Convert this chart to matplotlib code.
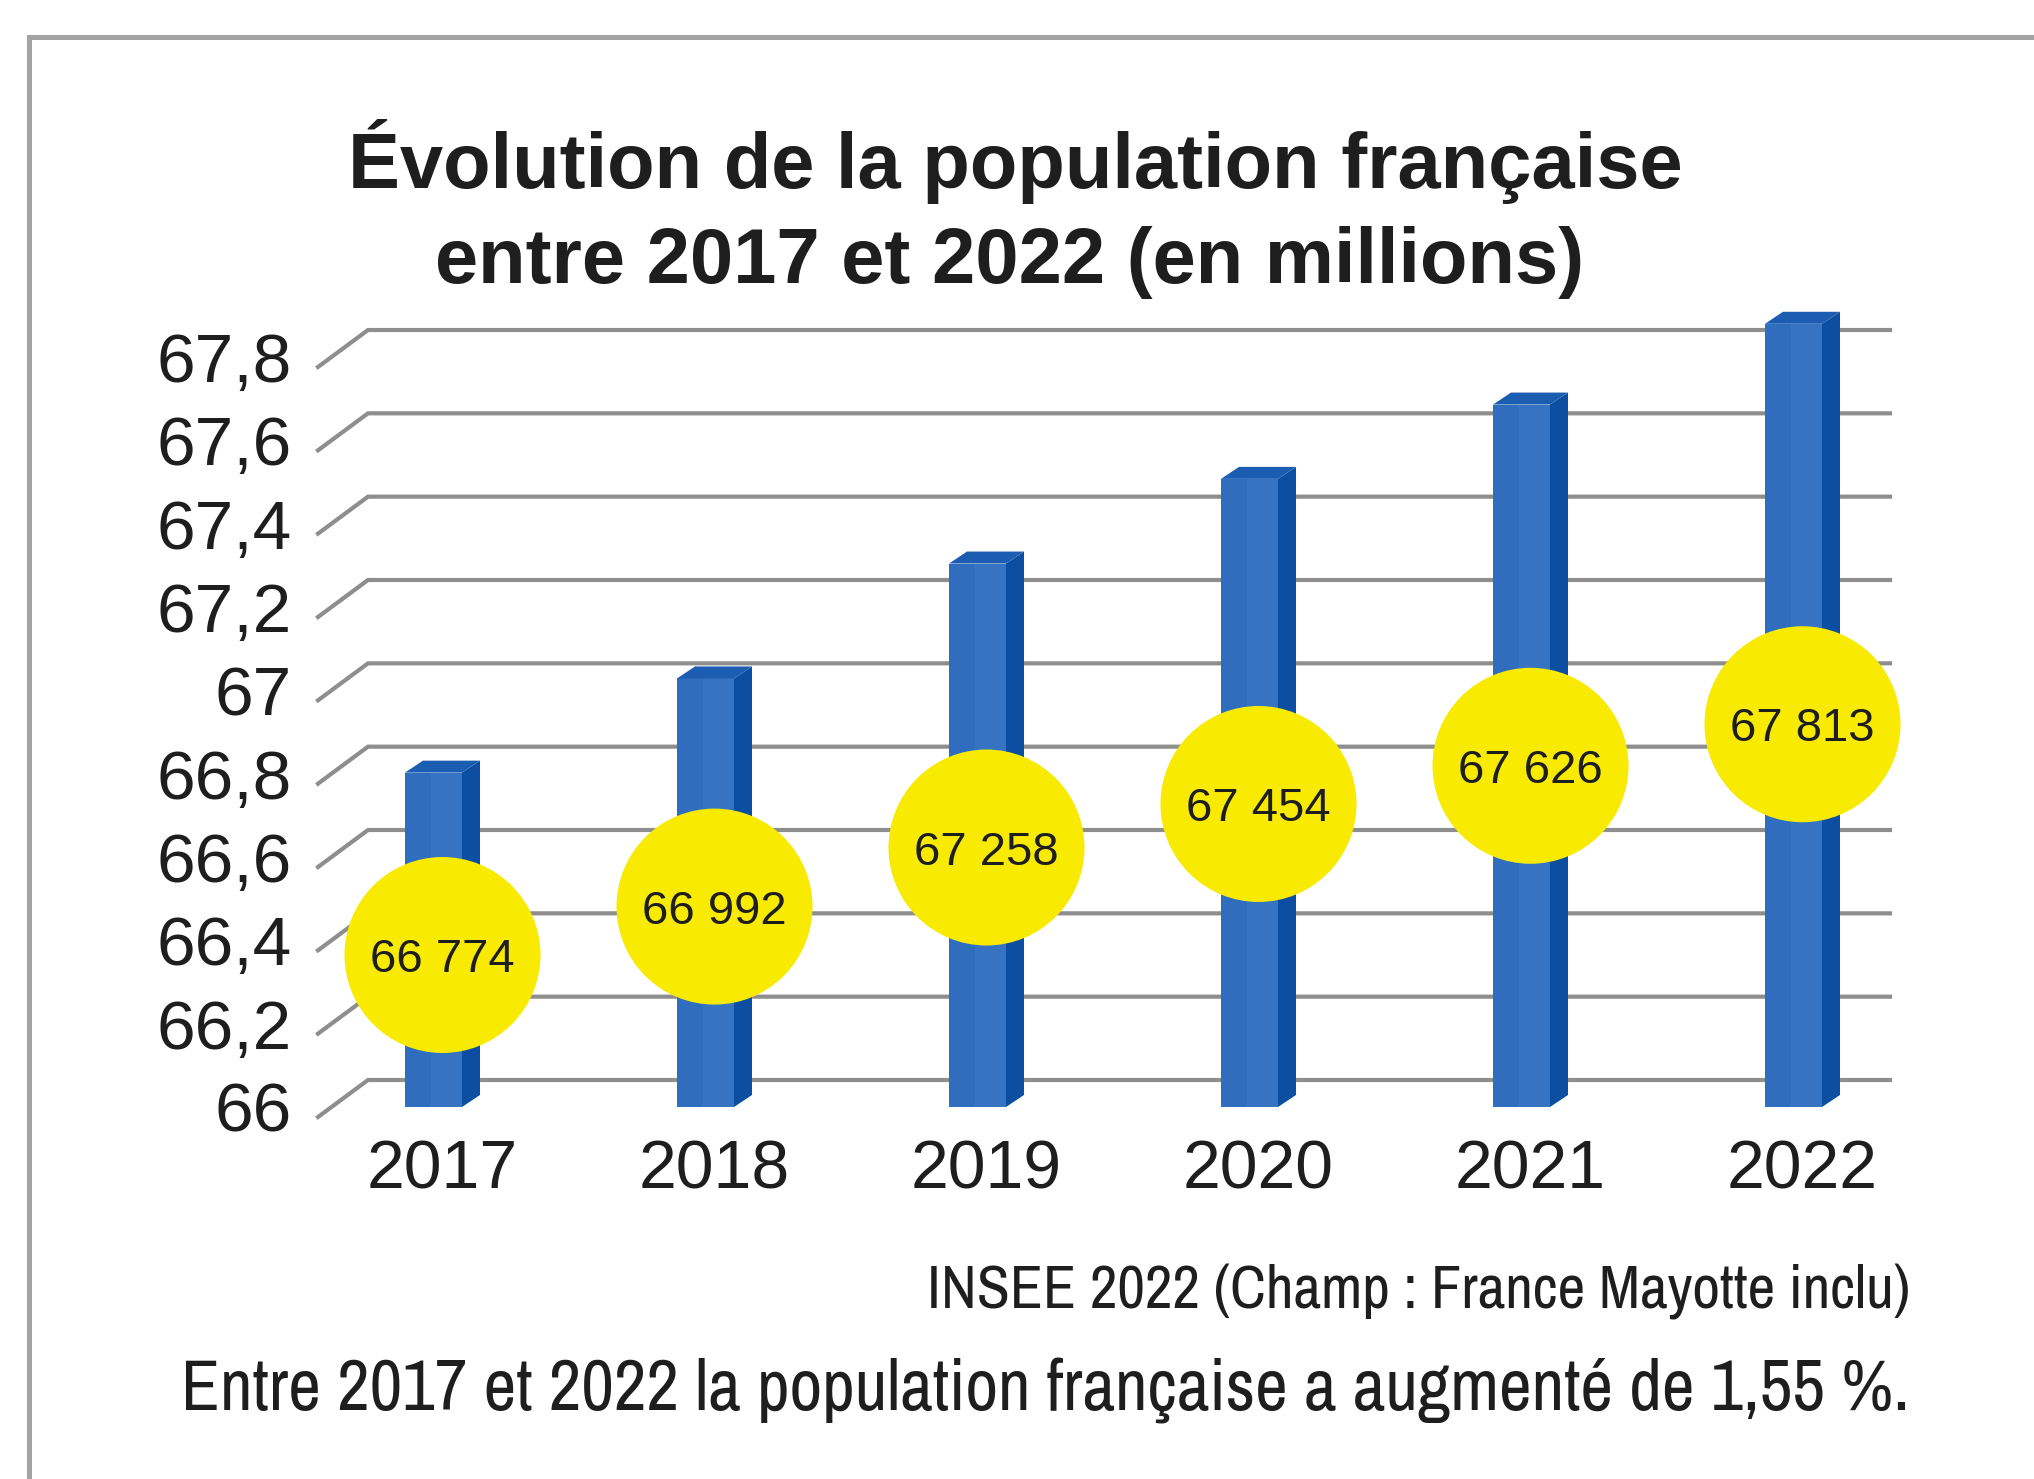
import matplotlib
matplotlib.use("Agg")
import matplotlib.pyplot as plt
from matplotlib import font_manager
from matplotlib.patches import Polygon, Ellipse
from matplotlib.lines import Line2D

# ---- data -------------------------------------------------------------
years = ["2017", "2018", "2019", "2020", "2021", "2022"]
population = [66.774, 66.992, 67.258, 67.454, 67.626, 67.813]  # millions
y_ticks = [66.0, 66.2, 66.4, 66.6, 66.8, 67.0, 67.2, 67.4, 67.6, 67.8]
y_tick_labels = ["66", "66,2", "66,4", "66,6", "66,8", "67", "67,2", "67,4", "67,6", "67,8"]
title_lines = ["Évolution de la population française",
               "entre 2017 et 2022 (en millions)"]
source_text = "INSEE 2022 (Champ : France Mayotte inclu)"
note_text = "Entre 2017 et 2022 la population française a augmenté de 1,55 %."

# ---- figure & coordinate system --------------------------------------
W, H = 2034, 1479
fig = plt.figure(figsize=(W / 100, H / 100), dpi=100)
fig.patch.set_facecolor("white")
ax = fig.add_axes([0, 0, 1, 1])
ax.axis("off")

X0, DX = 442.5, 272.0          # pixel x of first category, pixels per category
BASE, Y_BASE, PPU = 66.0, 1080.0, 416.67   # axis floor value, its pixel row, pixels per million
ax.set_xlim(-X0 / DX, (W - X0) / DX)
ax.set_ylim(BASE - (H - Y_BASE) / PPU, BASE + Y_BASE / PPU)


def px_x(p):
    """horizontal pixel length -> data units"""
    return p / DX


def px_y(p):
    """vertical pixel length -> data units"""
    return p / PPU


def col_x(p):
    """absolute pixel column -> data x"""
    return (p - X0) / DX


SANS = ["Liberation Sans", "DejaVu Sans"]

# prefer a condensed face for the footer lines when one is installed
_condensed = sorted({f.name for f in font_manager.fontManager.ttflist
                     if ("Narrow" in f.name or "Condensed" in f.name)})
NARROW = _condensed[:1] + SANS
TXT = "#1e1e1e"

# ---- outer frame -------------------------------------------------------
fx, fy = 29 / W, 1 - 37 / H
fig.add_artist(Line2D([fx, fx, 1.01], [-0.01, fy, fy], transform=fig.transFigure,
                      color="#a3a3a3", lw=3.6, solid_joinstyle="miter"))

# ---- back wall gridlines with perspective floor ticks ------------------
wall_left, floor_left, wall_right = col_x(368), col_x(318), col_x(1890)
for v in y_ticks:
    ax.plot([floor_left, wall_left, wall_right], [v - px_y(37), v, v],
            color="#8e8e8e", lw=3.0, solid_joinstyle="miter", zorder=1)

for v, lab in zip(y_ticks, y_tick_labels):
    ax.text(col_x(292), v - px_y(52), lab, ha="right", va="baseline",
            fontsize=50, color=TXT, family=SANS)

# ---- 3D columns -------------------------------------------------------
front_w, depth_x, depth_y = px_x(57), px_x(18), px_y(12)
front_floor = BASE - px_y(27)       # front plane sits lower than the back wall
front_scale = 432.0 / PPU           # front plane is slightly magnified

for i, v in enumerate(population):
    xl = i - (front_w + depth_x) / 2
    xr = xl + front_w
    top = front_floor + (v - BASE) * front_scale
    # front face (two tones for a soft shading)
    ax.add_patch(Polygon([(xl, front_floor), (xr, front_floor), (xr, top), (xl, top)],
                         closed=True, facecolor="#2f6dbe", edgecolor="none", zorder=2))
    ax.add_patch(Polygon([(xl + front_w * 0.45, front_floor), (xr, front_floor),
                          (xr, top), (xl + front_w * 0.45, top)],
                         closed=True, facecolor="#3674c3", edgecolor="none", zorder=2))
    # side face
    ax.add_patch(Polygon([(xr, front_floor), (xr + depth_x, front_floor + depth_y),
                          (xr + depth_x, top + depth_y), (xr, top)],
                         closed=True, facecolor="#0c4fa2", edgecolor="none", zorder=2))
    # top face
    ax.add_patch(Polygon([(xl, top), (xl + depth_x, top + depth_y),
                          (xr + depth_x, top + depth_y), (xr, top)],
                         closed=True, facecolor="#1c5db2", edgecolor="none", zorder=2))
    ax.text(i, BASE - px_y(108), years[i], ha="center", va="baseline",
            fontsize=49, color=TXT, family=SANS, zorder=4)

# ---- yellow value badges ------------------------------------------------
badge_d = 196
for i, v in enumerate(population):
    cy = 66.300 + (v - population[0]) * 0.533
    ax.add_patch(Ellipse((i, cy), px_x(badge_d), px_y(badge_d),
                         facecolor="#f8ea00", edgecolor="none", zorder=3))
    label = f"{round(v * 1000):,}".replace(",", " ")
    ax.text(i, cy, label, ha="center", va="center_baseline",
            fontsize=34, color=TXT, family=SANS, zorder=4)

# ---- title & footer ----------------------------------------------------
fig.text(1015 / W, 1 - 188 / H, title_lines[0], ha="center", va="baseline",
         fontsize=56, fontweight="bold", color=TXT, family=SANS)
fig.text(1010 / W, 1 - 283 / H, title_lines[1], ha="center", va="baseline",
         fontsize=56, fontweight="bold", color=TXT, family=SANS)

src = fig.text(1910 / W, 1 - 1308 / H, source_text, ha="right", va="baseline",
               fontsize=43, color=TXT, family=NARROW)
note = fig.text(1910 / W, 1 - 1411 / H, note_text, ha="right", va="baseline",
                fontsize=47, color=TXT, family=NARROW)

# size the footer lines to their column widths
renderer = fig.canvas.get_renderer()
for t, width_px in ((src, 985), (note, 1728)):
    w = t.get_window_extent(renderer).width
    t.set_fontsize(t.get_fontsize() * width_px / w)

fig.savefig("out.png", dpi=100, facecolor="white")
